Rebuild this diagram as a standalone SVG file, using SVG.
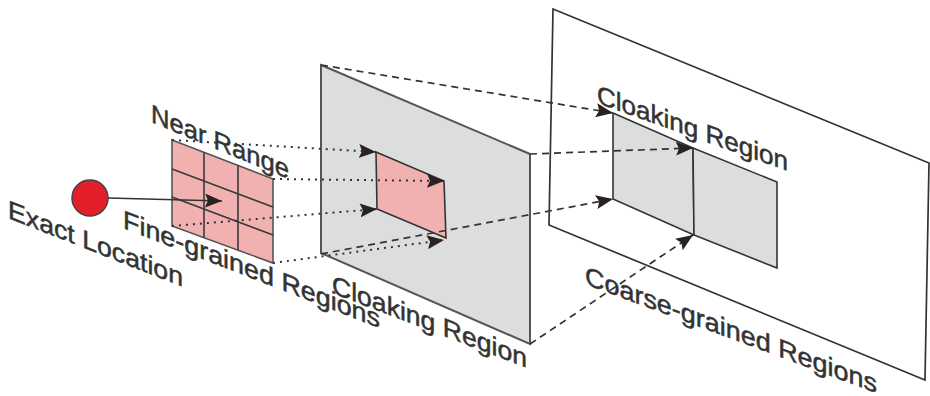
<svg xmlns="http://www.w3.org/2000/svg" width="930" height="396" viewBox="0 0 930 396">
<style>
.lbl{font-family:"Liberation Sans",Arial,sans-serif;font-size:26px;fill:#333;stroke:#333;stroke-width:0.5;}
.edge{stroke:#3a3a3a;stroke-width:1.6;fill:none;}
.dot{stroke:#333;stroke-width:2;stroke-dasharray:2 5;fill:none;marker-end:url(#ah);}
.dash{stroke:#333;stroke-width:1.7;stroke-dasharray:7 5;fill:none;marker-end:url(#ah);}
</style>
<defs>
<marker id="ah" markerUnits="userSpaceOnUse" markerWidth="18" markerHeight="14" refX="17" refY="7" orient="auto">
<path d="M0,0 L17,7 L0,14 L3,7 z" fill="#2a2222"/>
</marker>
</defs>
<rect width="930" height="396" fill="#fff"/>
<g id="coarse-panel">
<polygon points="553,9 929,163 925,380 549,225" fill="#fff" stroke="#333" stroke-width="1.7"/>
<polygon points="613,113 693,148 694,235 613,199" fill="#dcdddd" stroke="#333" stroke-width="1.6"/>
<polygon points="693,148 777,182 777,268 694,235" fill="#dcdddd" stroke="#333" stroke-width="1.6"/>
</g>
<g id="cloak-panel">
<polygon points="321,65 530,154 530,344 321,253" fill="#dcdddd" stroke="#555" stroke-width="2"/>
<polygon points="376,152 444,181 446,238 377,209" fill="#f2b1b1" stroke="#333" stroke-width="1.6"/>
</g>
<g id="fine-grid">
<polygon points="172,140 273,179 273,263 172,226" fill="#f2b1b1" stroke="#555" stroke-width="1.6"/>
<line x1="204" y1="152.4" x2="204" y2="237.7" class="edge"/>
<line x1="238" y1="165.5" x2="238" y2="250.2" class="edge"/>
<line x1="172" y1="169" x2="273" y2="207" class="edge"/>
<line x1="172" y1="197" x2="273" y2="235" class="edge"/>
</g>
<g id="exact-location">
<circle cx="90" cy="198" r="18" fill="#e3202a" stroke="#444" stroke-width="1.5"/>
</g>
<g id="connectors">
<line x1="108" y1="198" x2="222" y2="201" stroke="#333" stroke-width="1.7" marker-end="url(#ah)"/>
<line x1="172" y1="140" x2="376" y2="152" class="dot"/>
<line x1="273" y1="179" x2="444" y2="181" class="dot"/>
<line x1="172" y1="226" x2="377" y2="209" class="dot"/>
<line x1="273" y1="263" x2="444" y2="240" class="dot"/>
<line x1="321" y1="65" x2="613" y2="113" class="dash"/>
<line x1="530" y1="154" x2="693" y2="148" class="dash"/>
<line x1="321" y1="254" x2="613" y2="199" class="dash"/>
<line x1="530" y1="344" x2="693" y2="235" class="dash"/>
</g>
<g id="labels">
<text class="lbl" transform="translate(8,218) skewY(21.5)" textLength="175" lengthAdjust="spacingAndGlyphs">Exact Location</text>
<text class="lbl" transform="translate(151,122) skewY(22.5)" textLength="138" lengthAdjust="spacingAndGlyphs">Near Range</text>
<text class="lbl" transform="translate(123,228) skewY(21.3)" textLength="257" lengthAdjust="spacingAndGlyphs">Fine-grained Regions</text>
<text class="lbl" transform="translate(332,293) skewY(21)" textLength="195" lengthAdjust="spacingAndGlyphs">Cloaking Region</text>
<text class="lbl" transform="translate(597,103) skewY(19.6)" textLength="191" lengthAdjust="spacingAndGlyphs">Cloaking Region</text>
<text class="lbl" transform="translate(585,284) skewY(20.5)" textLength="292" lengthAdjust="spacingAndGlyphs">Coarse-grained Regions</text>
</g>
</svg>
